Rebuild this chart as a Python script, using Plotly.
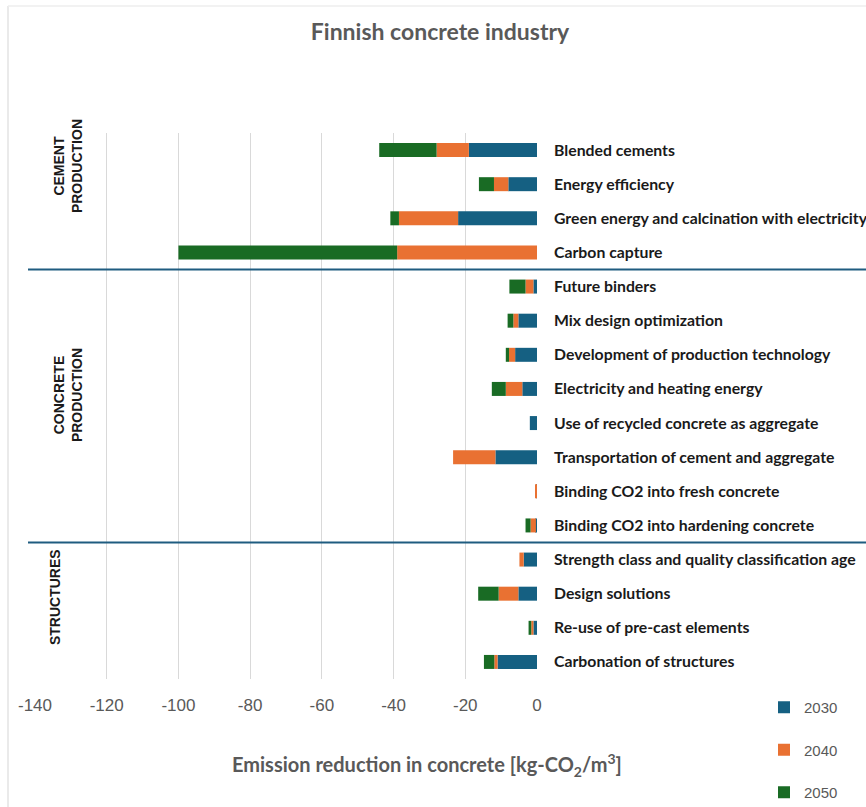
import plotly.graph_objects as go

# Reduction measures, top to bottom
categories = [
    "Blended cements",
    "Energy efficiency",
    "Green energy and calcination with electricity",
    "Carbon capture",
    "Future binders",
    "Mix design optimization",
    "Development of production technology",
    "Electricity and heating energy",
    "Use of recycled concrete as aggregate",
    "Transportation of cement and aggregate",
    "Binding CO2 into fresh concrete",
    "Binding CO2 into hardening concrete",
    "Strength class and quality classification age",
    "Design solutions",
    "Re-use of pre-cast elements",
    "Carbonation of structures",
]

# Emission reduction increments (kg-CO2/m3) per milestone year
red_2030 = [-19, -8, -22, 0, -1.0, -5.2, -6.1, -4.1, -2.0, -11.6, -0.1, -0.3, -3.7, -5.2, -1.0, -11.0]
red_2040 = [-9, -4, -16.5, -39, -2.2, -1.4, -1.7, -4.6, 0, -11.8, -0.3, -1.5, -1.2, -5.5, -0.6, -0.9]
red_2050 = [-16, -4.2, -2.4, -61, -4.5, -1.6, -0.9, -3.9, 0, 0, 0, -1.4, 0, -5.7, -0.75, -2.9]

years = ["2030", "2040", "2050"]
colors = ["#156082", "#E97132", "#196B24"]

x_ticks = [-140, -120, -100, -80, -60, -40, -20, 0]

groups = ["CEMENT<br>PRODUCTION", "CONCRETE<br>PRODUCTION", "STRUCTURES"]
group_centers = [0.47, 7.18, 13.1]
group_label_x = [68, 68, 55]
group_dividers = [3.5, 11.5]

# figure geometry (pixels)
W, H = 866, 807
L, R, T, B = 35, 537, 133, 679
PW, PH = R - L, B - T


def px(xp):
    return (xp - L) / PW


def py(yp):
    return (B - yp) / PH


GRAY = "#595959"
fig = go.Figure()
for name, vals, col in zip(years, [red_2030, red_2040, red_2050], colors):
    fig.add_trace(go.Bar(
        y=categories, x=vals, name=name, orientation="h",
        marker=dict(color=col, line=dict(width=0)),
        width=0.41, legendgroup=name,
    ))

shapes = []
for d in group_dividers:
    shapes.append(dict(type="line", xref="paper", yref="y",
                       x0=px(28), x1=px(880), y0=d, y1=d,
                       line=dict(color="#1F5C80", width=2)))
# chart border
shapes.append(dict(type="line", xref="paper", yref="paper",
                   x0=px(8), x1=px(8), y0=py(6), y1=py(820),
                   line=dict(color="#E3E3E3", width=1.5)))
shapes.append(dict(type="line", xref="paper", yref="paper",
                   x0=px(8), x1=px(880), y0=py(6), y1=py(6),
                   line=dict(color="#EEEEEE", width=1.5)))

annotations = []
for g, c, gx in zip(groups, group_centers, group_label_x):
    annotations.append(dict(
        text=f"<b>{g}</b>", xref="paper", yref="y", x=px(gx), y=c,
        xanchor="center", yanchor="middle",
        textangle=-90, showarrow=False, align="center",
        font=dict(family="Liberation Sans Narrow, Liberation Sans, Arial", size=14, color="#1a1a1a"),
    ))
annotations.append(dict(
    text="<b>Emission reduction in concrete [kg-CO<sub>2</sub>/m<sup>3</sup>]</b>",
    xref="paper", yref="paper", x=px(427), y=py(765),
    xanchor="center", yanchor="middle",
    showarrow=False, font=dict(family="Lato, Liberation Sans", size=20, color=GRAY),
))

fig.update_layout(
    template="none",
    width=W, height=H,
    margin=dict(l=L, r=W - R, t=T, b=H - B, pad=0, autoexpand=False),
    paper_bgcolor="white", plot_bgcolor="white",
    barmode="relative",
    bargap=0.59,
    title=dict(text="<b>Finnish concrete industry</b>", x=px(440), xref="paper",
               xanchor="center", y=1 - 32 / H, yanchor="middle",
               font=dict(family="Lato, Liberation Sans", size=23, color=GRAY)),
    xaxis=dict(range=[-140, 0], tickvals=x_ticks, ticktext=[str(v) for v in x_ticks],
               showgrid=True, gridcolor="#D9D9D9", gridwidth=1, zeroline=False,
               showline=False, ticks="", ticklabelstandoff=14, automargin=False,
               tickfont=dict(family="Liberation Sans, Arial", size=17, color=GRAY)),
    yaxis=dict(categoryorder="array", categoryarray=categories,
               range=[len(categories) - 0.5, -0.5], autorange=False,
               side="right", showgrid=False, zeroline=False, showline=False,
               ticks="", ticklabelstandoff=16, automargin=False,
               tickfont=dict(family="Lato, Liberation Sans", size=15.8, color="#1a1a1a",
                             weight="bold")),
    legend=dict(x=px(764), y=py(691), xanchor="left", yanchor="top",
                orientation="v", tracegroupgap=20, bgcolor="rgba(0,0,0,0)",
                font=dict(family="Liberation Sans, Arial", size=15, color=GRAY)),
    shapes=shapes,
    annotations=annotations,
    showlegend=True,
)

fig.write_html("out.html")
